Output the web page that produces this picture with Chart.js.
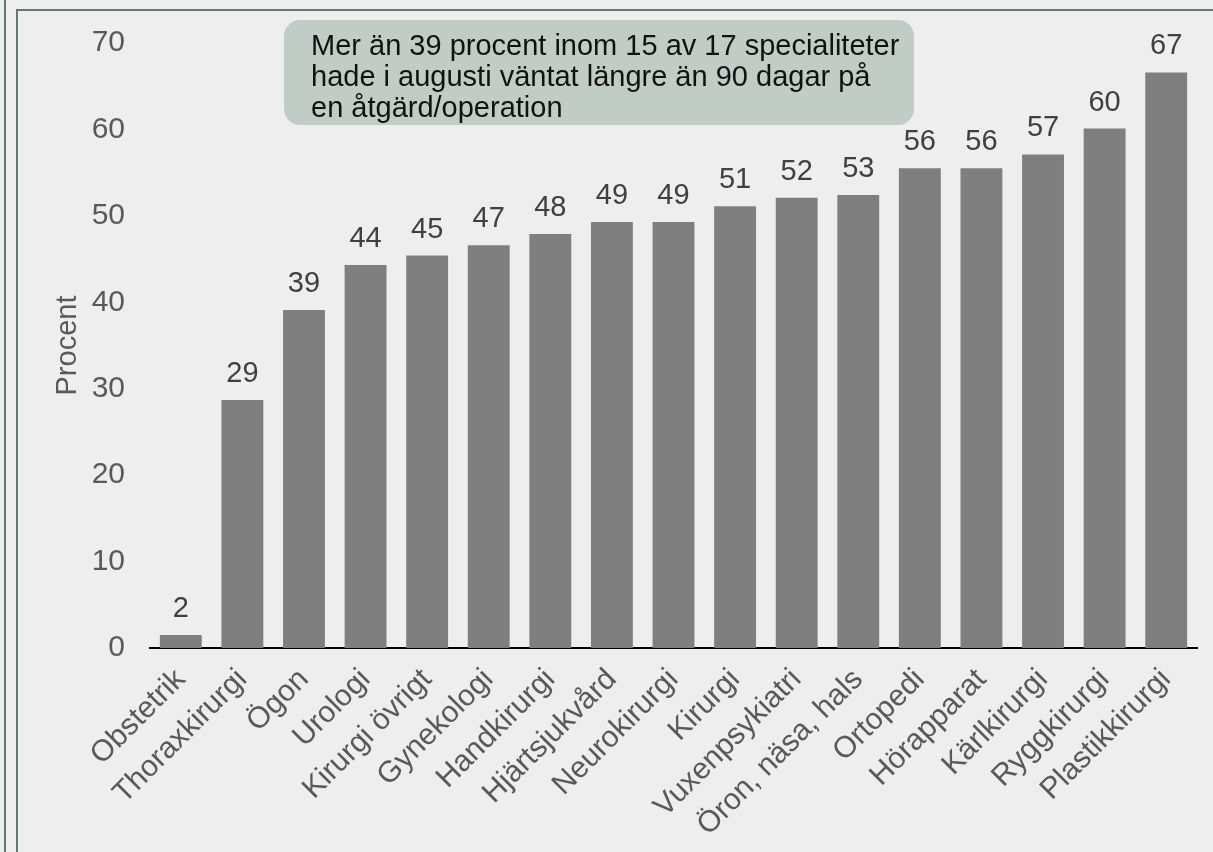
<!DOCTYPE html>
<html lang="sv">
<head>
<meta charset="utf-8">
<title>Väntat längre än 90 dagar per specialitet</title>
<script src="https://cdn.jsdelivr.net/npm/chart.js@4.4.1/dist/chart.umd.min.js"></script>
<style>
    html, body {
        margin: 0;
        padding: 0;
        width: 1213px;
        height: 852px;
        overflow: hidden;
        background: #eeeeee;
        font-family: "Liberation Sans", Arial, sans-serif;
    }
    .outerLine {
        position: absolute;
        left: 4px;
        top: 0;
        width: 2px;
        height: 852px;
        background: #65796f;
    }
    .panel {
        position: absolute;
        left: 16px;
        top: 9px;
        width: 1197px;
        height: 843px;
        border-left: 2px solid #65796f;
        border-top: 2px solid #65796f;
        box-sizing: border-box;
    }
    .chartBox {
        position: absolute;
        left: 0;
        top: 0;
        width: 1213px;
        height: 852px;
    }
    .note {
        position: absolute;
        left: 284px;
        top: 20px;
        width: 630px;
        height: 105px;
        box-sizing: border-box;
        padding: 10px 0 0 27px;
        background: #c2ccc6;
        border-radius: 16px;
        color: #111111;
        font-size: 29px;
        line-height: 31px;
        white-space: nowrap;
    }
</style>
</head>
<body>
<div class="outerLine"></div>
<div class="panel"></div>
<div class="chartBox"><canvas id="waitChart" width="1213" height="852"></canvas></div>
<div class="note">Mer än 39 procent inom 15 av 17 specialiteter<br>hade i augusti väntat längre än 90 dagar på<br>en åtgärd/operation</div>

<script>
// Data
const specialties = [
    'Obstetrik', 'Thoraxkirurgi', 'Ögon', 'Urologi', 'Kirurgi övrigt',
    'Gynekologi', 'Handkirurgi', 'Hjärtsjukvård', 'Neurokirurgi', 'Kirurgi',
    'Vuxenpsykiatri', 'Öron, näsa, hals', 'Ortopedi', 'Hörapparat',
    'Kärlkirurgi', 'Ryggkirurgi', 'Plastikkirurgi'
];
const percentValues = [1.5, 28.7, 39.1, 44.3, 45.4, 46.6, 47.9, 49.3, 49.3, 51.1, 52.1, 52.4, 55.5, 55.5, 57.1, 60.1, 66.6];
const valueLabels = ['2', '29', '39', '44', '45', '47', '48', '49', '49', '51', '52', '53', '56', '56', '57', '60', '67'];
const yTicks = [0, 10, 20, 30, 40, 50, 60, 70];

const fontFamily = '"Liberation Sans", Arial, sans-serif';
const axisGrey = '#595959';

// Plugin för värdeetiketter ovanför staplarna
const barValueLabels = {
    id: 'barValueLabels',
    afterDatasetsDraw(chart) {
        const ctx = chart.ctx;
        const meta = chart.getDatasetMeta(0);
        ctx.save();
        ctx.font = '29px ' + fontFamily;
        ctx.fillStyle = '#404040';
        ctx.textAlign = 'center';
        ctx.textBaseline = 'middle';
        meta.data.forEach((bar, i) => {
            ctx.fillText(valueLabels[i], bar.x, bar.y - 26);
        });
        ctx.restore();
    }
};

const ctx = document.getElementById('waitChart').getContext('2d');
const waitChart = new Chart(ctx, {
    type: 'bar',
    data: {
        labels: specialties,
        datasets: [{
            data: percentValues,
            backgroundColor: '#7f7f7f',
            borderWidth: 0,
            barPercentage: 0.68,
            categoryPercentage: 1
        }]
    },
    options: {
        responsive: false,
        animation: false,
        layout: {
            padding: { left: 0, right: 16, top: 39, bottom: 0 }
        },
        plugins: {
            legend: { display: false },
            tooltip: { enabled: false }
        },
        scales: {
            x: {
                grid: { display: false, drawTicks: false },
                border: { display: true, color: '#000000', width: 2 },
                ticks: {
                    autoSkip: false,
                    minRotation: 45,
                    maxRotation: 45,
                    padding: 14,
                    color: axisGrey,
                    font: { family: fontFamily, size: 30 }
                },
                afterFit: (scale) => { scale.height = 204; }
            },
            y: {
                min: 0,
                max: 70,
                grid: { display: false, drawTicks: false },
                border: { display: false },
                afterBuildTicks: (scale) => {
                    scale.ticks = yTicks.map(v => ({ value: v }));
                },
                ticks: {
                    padding: 25,
                    color: axisGrey,
                    font: { family: fontFamily, size: 30 }
                },
                title: {
                    display: true,
                    text: 'Procent',
                    color: axisGrey,
                    font: { family: fontFamily, size: 29 },
                    padding: { top: 51, bottom: 0 }
                },
                afterFit: (scale) => { scale.width = 150; }
            }
        }
    },
    plugins: [barValueLabels]
});
</script>
</body>
</html>
